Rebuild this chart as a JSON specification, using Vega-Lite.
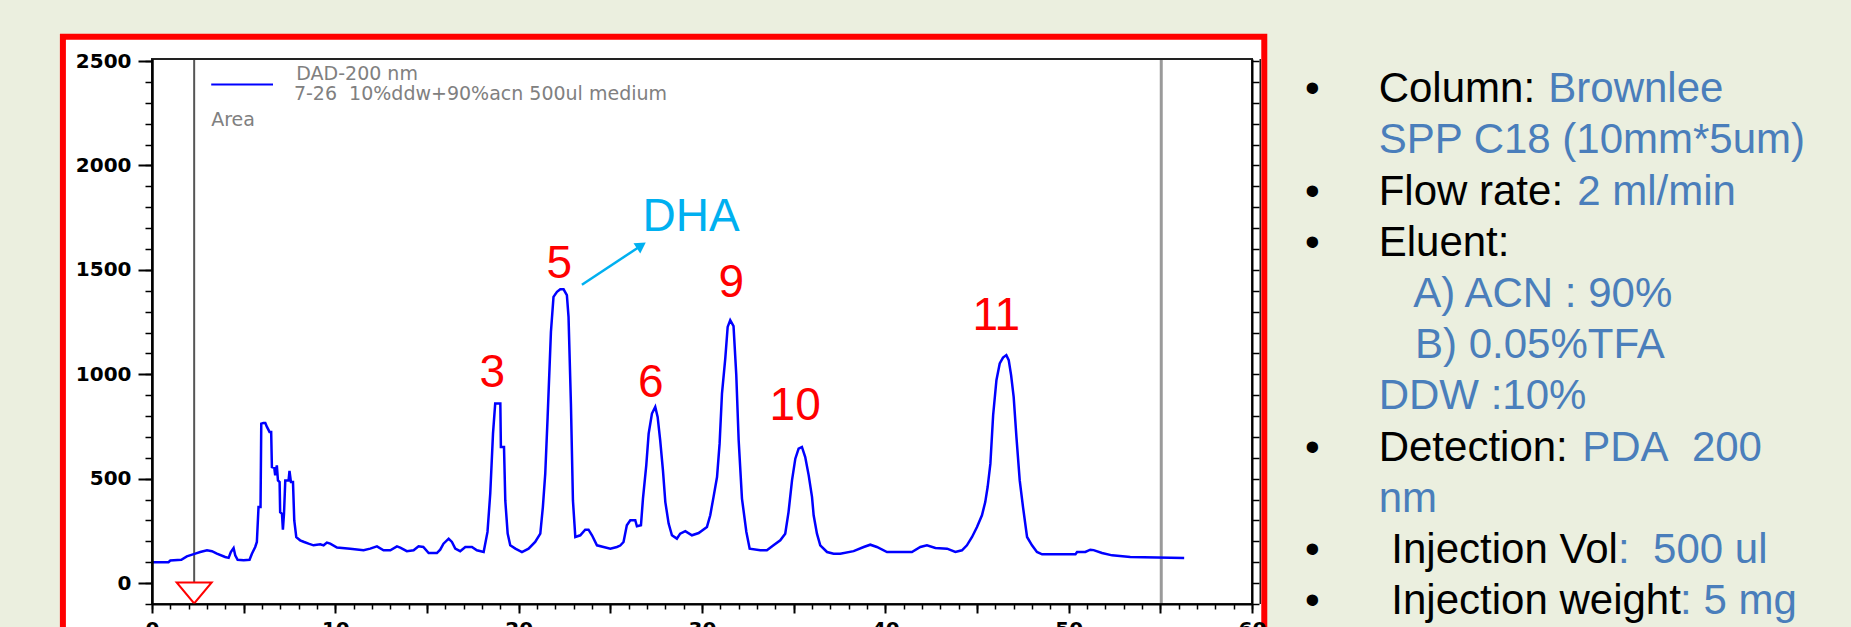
{
  "$schema": "https://vega.github.io/schema/vega-lite/v6.json",
  "width": 1100,
  "height": 545,
  "autosize": {"type": "none"},
  "padding": {"left": 152, "top": 59, "right": 599, "bottom": 23},
  "background": "#EBEFDF",
  "config": {
    "view": {"stroke": null},
    "axis": {"zindex": 1, "grid": false, "title": null, "tickColor": "#000000", "domainColor": "#000000", "labelColor": "#000000", "labelFont": "DejaVu Sans"}
  },
  "datasets": {
    "chrom": [
      {"t":0,"v":100},{"t":0.9,"v":100},{"t":1.0,"v":108},{"t":1.6,"v":112},{"t":1.9,"v":128},{"t":2.36,"v":141},{"t":2.63,"v":149},{"t":3.0,"v":157},{"t":3.27,"v":153},{"t":3.54,"v":141},{"t":3.99,"v":125},{"t":4.18,"v":121},{"t":4.30,"v":149},{"t":4.45,"v":168},{"t":4.54,"v":133},{"t":4.67,"v":112},{"t":5.0,"v":109},{"t":5.32,"v":112},{"t":5.45,"v":141},{"t":5.63,"v":173},{"t":5.72,"v":197},{"t":5.81,"v":364},{"t":5.92,"v":364},{"t":5.96,"v":764},{"t":6.08,"v":767},{"t":6.18,"v":767},{"t":6.27,"v":748},{"t":6.41,"v":724},{"t":6.5,"v":724},{"t":6.54,"v":556},{"t":6.67,"v":552},{"t":6.72,"v":516},{"t":6.81,"v":564},{"t":6.87,"v":492},{"t":6.96,"v":484},{"t":6.99,"v":340},{"t":7.09,"v":332},{"t":7.14,"v":256},{"t":7.2,"v":332},{"t":7.27,"v":492},{"t":7.45,"v":492},{"t":7.5,"v":537},{"t":7.58,"v":484},{"t":7.69,"v":484},{"t":7.76,"v":300},{"t":7.87,"v":220},{"t":8.08,"v":205},{"t":8.3,"v":197},{"t":8.54,"v":189},{"t":8.81,"v":181},{"t":9.18,"v":186},{"t":9.36,"v":181},{"t":9.54,"v":194},{"t":9.72,"v":189},{"t":10.09,"v":170},{"t":10.81,"v":165},{"t":11.54,"v":157},{"t":11.9,"v":165},{"t":12.27,"v":176},{"t":12.63,"v":157},{"t":13.0,"v":157},{"t":13.36,"v":176},{"t":13.54,"v":170},
      {"t":13.9,"v":153},{"t":14.27,"v":157},{"t":14.54,"v":176},{"t":14.8,"v":173},{"t":15.09,"v":144},{"t":15.54,"v":144},{"t":15.72,"v":160},{"t":15.9,"v":189},{"t":16.18,"v":213},{"t":16.36,"v":197},{"t":16.54,"v":165},{"t":16.81,"v":153},{"t":17.09,"v":173},{"t":17.45,"v":173},{"t":17.72,"v":157},{"t":18.09,"v":149},{"t":18.3,"v":245},{"t":18.45,"v":429},{"t":18.6,"v":716},{"t":18.72,"v":860},{"t":19.0,"v":860},{"t":19.03,"v":652},{"t":19.2,"v":652},{"t":19.27,"v":396},{"t":19.4,"v":237},{"t":19.54,"v":181},{"t":19.82,"v":165},{"t":20.18,"v":149},{"t":20.54,"v":165},{"t":20.9,"v":197},{"t":21.18,"v":237},{"t":21.32,"v":364},{"t":21.45,"v":524},{"t":21.58,"v":796},{"t":21.76,"v":1203},{"t":21.9,"v":1371},{"t":22.09,"v":1395},{"t":22.27,"v":1407},{"t":22.45,"v":1407},{"t":22.63,"v":1379},{"t":22.72,"v":1275},{"t":22.85,"v":860},{"t":22.96,"v":396},{"t":23.09,"v":221},{"t":23.36,"v":229},{"t":23.63,"v":256},{"t":23.81,"v":256},{"t":24.0,"v":229},{"t":24.27,"v":181},{"t":24.63,"v":173},{"t":25.0,"v":165},{"t":25.36,"v":173},{"t":25.54,"v":180},
      {"t":25.72,"v":197},{"t":25.9,"v":277},{"t":26.09,"v":301},{"t":26.36,"v":301},{"t":26.45,"v":272},{"t":26.67,"v":277},{"t":26.78,"v":405},{"t":26.96,"v":564},{"t":27.09,"v":716},{"t":27.27,"v":812},{"t":27.45,"v":844},{"t":27.58,"v":796},{"t":27.72,"v":684},{"t":27.87,"v":540},{"t":28.0,"v":388},{"t":28.18,"v":285},{"t":28.36,"v":229},{"t":28.63,"v":213},{"t":28.81,"v":237},{"t":29.09,"v":249},{"t":29.45,"v":229},{"t":29.82,"v":240},{"t":30.27,"v":269},{"t":30.45,"v":325},{"t":30.63,"v":413},{"t":30.82,"v":508},{"t":30.96,"v":668},{"t":31.09,"v":908},{"t":31.27,"v":1076},{"t":31.4,"v":1227},{"t":31.54,"v":1259},{"t":31.72,"v":1231},{"t":31.87,"v":996},{"t":32.0,"v":684},{"t":32.18,"v":405},{"t":32.42,"v":245},{"t":32.6,"v":165},{"t":33.18,"v":157},{"t":33.54,"v":157},{"t":33.9,"v":181},{"t":34.27,"v":205},{"t":34.54,"v":237},{"t":34.72,"v":340},{"t":34.91,"v":492},{"t":35.09,"v":596},{"t":35.27,"v":644},{"t":35.45,"v":652},{"t":35.63,"v":604},{"t":35.82,"v":516},{"t":36.0,"v":413},{"t":36.09,"v":325},{"t":36.27,"v":237},{"t":36.45,"v":181},{"t":36.82,"v":149},{"t":37.18,"v":141},{"t":37.54,"v":141},
      {"t":38.27,"v":153},{"t":38.82,"v":173},{"t":39.18,"v":184},{"t":39.54,"v":173},{"t":40.09,"v":149},{"t":41.45,"v":149},{"t":41.91,"v":173},{"t":42.27,"v":181},{"t":42.73,"v":168},{"t":43.37,"v":165},{"t":43.82,"v":149},{"t":44.18,"v":157},{"t":44.45,"v":181},{"t":44.73,"v":221},{"t":45.0,"v":269},{"t":45.27,"v":325},{"t":45.45,"v":388},{"t":45.58,"v":460},{"t":45.73,"v":572},{"t":45.88,"v":804},{"t":46.06,"v":972},{"t":46.24,"v":1052},{"t":46.42,"v":1080},{"t":46.6,"v":1092},{"t":46.73,"v":1068},{"t":46.86,"v":996},{"t":47.0,"v":892},{"t":47.15,"v":700},{"t":47.33,"v":492},{"t":47.51,"v":364},{"t":47.73,"v":221},{"t":48.0,"v":181},{"t":48.27,"v":149},{"t":48.55,"v":138},{"t":49.55,"v":138},
      {"t":50.37,"v":138},{"t":50.46,"v":149},{"t":50.91,"v":149},{"t":51.18,"v":160},{"t":51.36,"v":158},{"t":51.82,"v":144},{"t":52.37,"v":133},{"t":53.36,"v":125},{"t":56.3,"v":120}
    ],
    "labels": [
      {"lab":"3","t":18.56,"v":937,"kind":"peak"},
      {"lab":"5","t":22.21,"v":1459,"kind":"peak"},
      {"lab":"6","t":27.21,"v":889,"kind":"peak"},
      {"lab":"9","t":31.6,"v":1368,"kind":"peak"},
      {"lab":"10","t":35.08,"v":779,"kind":"peak"},
      {"lab":"11","t":46.05,"v":1210,"kind":"peak"},
      {"lab":"DHA","t":29.41,"v":1688,"kind":"compound"}
    ],
    "info": [
      {"s":"•","t":62.89,"v":2303.6,"part":"label"},
      {"s":"Column:","t":66.91,"v":2303.6,"part":"label"},
      {"s":"Brownlee","t":76.16,"v":2303.6,"part":"value"},
      {"s":"SPP C18 (10mm*5um)","t":66.91,"v":2058.4,"part":"value"},
      {"s":"•","t":62.89,"v":1813.2,"part":"label"},
      {"s":"Flow rate:","t":66.91,"v":1813.2,"part":"label"},
      {"s":"2 ml/min","t":77.74,"v":1813.2,"part":"value"},
      {"s":"•","t":62.89,"v":1568.0,"part":"label"},
      {"s":"Eluent:","t":66.91,"v":1568.0,"part":"label"},
      {"s":"A) ACN : 90%","t":68.79,"v":1322.8,"part":"value"},
      {"s":"B) 0.05%TFA","t":68.89,"v":1077.6,"part":"value"},
      {"s":"DDW :10%","t":66.91,"v":832.4,"part":"value"},
      {"s":"•","t":62.89,"v":587.2,"part":"label"},
      {"s":"Detection:","t":66.91,"v":587.2,"part":"label"},
      {"s":"PDA\u00a0\u00a0200","t":78.01,"v":587.2,"part":"value"},
      {"s":"nm","t":66.91,"v":342.0,"part":"value"},
      {"s":"•","t":62.89,"v":96.7,"part":"label"},
      {"s":"Injection Vol","t":67.6,"v":96.7,"part":"label"},
      {"s":":\u00a0\u00a0500 ul","t":79.97,"v":96.7,"part":"value"},
      {"s":"•","t":62.89,"v":-148.5,"part":"label"},
      {"s":"Injection weight","t":67.6,"v":-148.5,"part":"label"},
      {"s":": 5 mg","t":83.35,"v":-148.5,"part":"value"}
    ],
    "legendtext": [
      {"s":"DAD-200 nm","t":7.87,"v":2408},
      {"s":"7-26\u00a0\u00a010%ddw+90%acn 500ul medium","t":7.74,"v":2312},
      {"s":"Area","t":3.23,"v":2187}
    ]
  },
  "resolve": {"axis": {"x": "independent", "y": "independent"}, "scale": {"color": "independent"}},
  "layer": [
    {
      "data": {"values": [{"x1": -4.86, "x2": 60.67, "y1": 2617, "y2": -420}]},
      "mark": {"type": "rect", "fill": "#FFFFFF", "stroke": "#FF0000", "strokeWidth": 6},
      "encoding": {
        "x": {"field": "x1", "type": "quantitative", "scale": {"domain": [0, 60], "nice": false, "zero": false}, "axis": null},
        "x2": {"field": "x2"},
        "y": {"field": "y1", "type": "quantitative", "scale": {"domain": [-100, 2510], "nice": false, "zero": false}, "axis": null},
        "y2": {"field": "y2"}
      }
    },
    {
      "data": {"values": [{"t": 2.3, "kind": "start"}, {"t": 55.05, "kind": "stop"}, {"t": 60.45, "kind": "edge"}]},
      "transform": [{"filter": "datum.kind === 'start'"}],
      "mark": {"type": "rule", "color": "#555555", "strokeWidth": 2},
      "encoding": {
        "x": {"field": "t", "type": "quantitative",
              "axis": {"orient": "bottom", "zindex": 2, "values": [0,1,2,3,4,5,6,7,8,9,10,11,12,13,14,15,16,17,18,19,20,21,22,23,24,25,26,27,28,29,30,31,32,33,34,35,36,37,38,39,40,41,42,43,44,45,46,47,48,49,50,51,52,53,54,55,56,57,58,59,60], "tickSize": 5, "tickWidth": 1.5, "labels": false, "domain": false}}
      }
    },
    {
      "data": {"values": [{"t": 2.3, "kind": "start"}, {"t": 55.05, "kind": "stop"}, {"t": 60.45, "kind": "edge"}]},
      "transform": [{"filter": "datum.kind === 'stop'"}],
      "mark": {"type": "rule", "color": "#9A9A9A", "strokeWidth": 3},
      "encoding": {"x": {"field": "t", "type": "quantitative", "axis": null}}
    },
    {
      "data": {"values": [{"t": 2.3, "kind": "start"}, {"t": 55.05, "kind": "stop"}, {"t": 60.45, "kind": "edge"}]},
      "transform": [{"filter": "datum.kind === 'edge'"}],
      "mark": {"type": "rule", "color": "#222222", "strokeWidth": 1.5},
      "encoding": {"x": {"field": "t", "type": "quantitative", "axis": null}}
    },
    {
      "data": {"values": [{"x1": 0, "x2": 60, "y1": -100, "y2": 2510}]},
      "mark": {"type": "rect", "fill": "#FFFFFF", "fillOpacity": 0, "stroke": "#222222", "strokeWidth": 2},
      "encoding": {
        "x": {"field": "x1", "type": "quantitative", "axis": null},
        "x2": {"field": "x2"},
        "y": {"field": "y1", "type": "quantitative",
              "axis": {"orient": "right", "zindex": 2, "values": [-100,0,100,200,300,400,500,600,700,800,900,1000,1100,1200,1300,1400,1500,1600,1700,1800,1900,2000,2100,2200,2300,2400,2500], "tickSize": 7, "tickWidth": 1.5, "labels": false, "domainWidth": 2}},
        "y2": {"field": "y2"}
      }
    },
    {
      "data": {"values": [{"t": 2.3, "v": -47}]},
      "mark": {"type": "point", "shape": "M-1,-0.6L1,-0.6L0,0.6Z", "size": 1225, "filled": true, "fill": "#FFFFFF", "stroke": "#FF0000", "strokeWidth": 2, "opacity": 1},
      "encoding": {
        "x": {"field": "t", "type": "quantitative", "axis": null},
        "y": {"field": "v", "type": "quantitative",
              "axis": {"orient": "left", "zindex": 2, "values": [-100,0,100,200,300,400,500,600,700,800,900,1000,1100,1200,1300,1400,1500,1600,1700,1800,1900,2000,2100,2200,2300,2400,2500], "tickSize": 7, "tickWidth": 1.5, "labels": false, "domain": false}}
      }
    },
    {
      "data": {"name": "chrom"},
      "mark": {"type": "line", "color": "#0000FF", "strokeWidth": 2.5, "interpolate": "linear"},
      "encoding": {
        "x": {"field": "t", "type": "quantitative",
              "axis": {"orient": "bottom", "zindex": 2, "values": [0,5,10,15,20,25,30,35,40,45,50,55,60], "tickSize": 9, "tickWidth": 2, "domainWidth": 2,
                       "labelExpr": "datum.value % 10 === 0 ? datum.label : ''", "labelFontSize": 20, "labelFontWeight": "bold", "labelPadding": 6, "labelBaseline": "top", "labelFlush": false, "labelOverlap": false}},
        "y": {"field": "v", "type": "quantitative",
              "axis": {"orient": "left", "zindex": 2, "values": [0,500,1000,1500,2000,2500], "format": "d", "tickSize": 14, "tickWidth": 2, "domainWidth": 2.5,
                       "labelFontSize": 20, "labelFontWeight": "bold", "labelPadding": 7, "labelOverlap": false, "labelFlush": false}}
      }
    },
    {
      "data": {"values": [{"t1": 3.23, "t2": 6.6, "v": 2388}]},
      "mark": {"type": "rule", "color": "#0000FF", "strokeWidth": 2},
      "encoding": {
        "x": {"field": "t1", "type": "quantitative", "axis": null},
        "x2": {"field": "t2"},
        "y": {"field": "v", "type": "quantitative", "axis": null}
      }
    },
    {
      "data": {"name": "legendtext"},
      "mark": {"type": "text", "align": "left", "baseline": "alphabetic", "font": "DejaVu Sans", "fontSize": 19, "color": "#808080"},
      "encoding": {
        "x": {"field": "t", "type": "quantitative", "axis": null},
        "y": {"field": "v", "type": "quantitative", "axis": null},
        "text": {"field": "s"}
      }
    },
    {
      "data": {"name": "labels"},
      "mark": {"type": "text", "align": "center", "baseline": "alphabetic", "font": "Liberation Sans", "fontSize": 46},
      "encoding": {
        "x": {"field": "t", "type": "quantitative", "axis": null},
        "y": {"field": "v", "type": "quantitative", "axis": null},
        "text": {"field": "lab"},
        "color": {"field": "kind", "type": "nominal", "scale": {"domain": ["peak", "compound"], "range": ["#FF0000", "#00B0F0"]}, "legend": null}
      }
    },
    {
      "data": {"values": [{"t1": 23.45, "v1": 1429, "t2": 26.69, "v2": 1617}]},
      "mark": {"type": "rule", "color": "#00B0F0", "strokeWidth": 2.5},
      "encoding": {
        "x": {"field": "t1", "type": "quantitative", "axis": null},
        "y": {"field": "v1", "type": "quantitative", "axis": null},
        "x2": {"field": "t2"},
        "y2": {"field": "v2"}
      }
    },
    {
      "data": {"values": [{"t": 26.69, "v": 1617}]},
      "mark": {"type": "point", "shape": "triangle-up", "angle": 56.5, "size": 150, "filled": true, "color": "#00B0F0", "opacity": 1},
      "encoding": {
        "x": {"field": "t", "type": "quantitative", "axis": null},
        "y": {"field": "v", "type": "quantitative", "axis": null}
      }
    },
    {
      "data": {"name": "info"},
      "mark": {"type": "text", "align": "left", "baseline": "alphabetic", "font": "Liberation Sans", "fontSize": 42},
      "encoding": {
        "x": {"field": "t", "type": "quantitative", "axis": null},
        "y": {"field": "v", "type": "quantitative", "axis": null},
        "text": {"field": "s"},
        "color": {"field": "part", "type": "nominal", "scale": {"domain": ["label", "value"], "range": ["#000000", "#4A7EBB"]}, "legend": null}
      }
    }
  ]
}
